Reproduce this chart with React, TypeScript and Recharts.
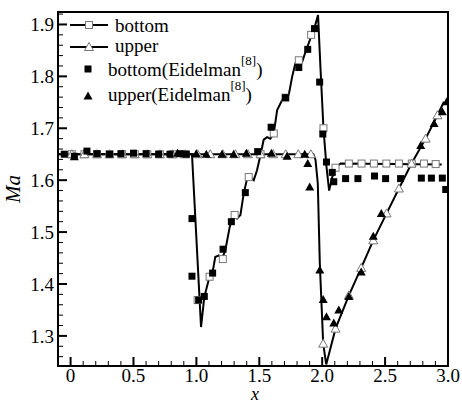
import { ComposedChart, Line, Scatter, XAxis, YAxis, ReferenceArea } from 'recharts'

const FONT = "'Liberation Serif', 'DejaVu Serif', serif"

// computed Mach number along the bottom and upper walls
const bottomLine: [number, number][] = [
  [-0.1, 1.65], [0.965, 1.65], [1.037, 1.317], [1.063, 1.375], [1.097, 1.407],
  [1.129, 1.423], [1.15, 1.452], [1.177, 1.455], [1.204, 1.449], [1.23, 1.465],
  [1.265, 1.51], [1.297, 1.533], [1.323, 1.526], [1.35, 1.533], [1.376, 1.574],
  [1.403, 1.603], [1.429, 1.606], [1.456, 1.6], [1.482, 1.619], [1.509, 1.648],
  [1.535, 1.678], [1.562, 1.683], [1.588, 1.68], [1.615, 1.69], [1.642, 1.735],
  [1.681, 1.754], [1.708, 1.759], [1.734, 1.764], [1.761, 1.799], [1.787, 1.825],
  [1.814, 1.831], [1.841, 1.828], [1.867, 1.847], [1.907, 1.873], [1.933, 1.889],
  [1.967, 1.918], [1.986, 1.818], [2.01, 1.7], [2.034, 1.626], [2.055, 1.58],
  [2.08, 1.606], [2.106, 1.624], [2.146, 1.632], [2.95, 1.63],
]
const upperLine: [number, number][] = [
  [-0.1, 1.65], [1.93, 1.65], [1.947, 1.639], [1.965, 1.594], [1.981, 1.44],
  [2.008, 1.285], [2.032, 1.245], [2.106, 1.314], [2.212, 1.378], [2.31, 1.431],
  [2.406, 1.484], [2.512, 1.536], [2.61, 1.584], [2.71, 1.632], [2.822, 1.68],
  [2.916, 1.725], [2.968, 1.751],
]

// symbols drawn on the computed curves
const bottomSymbols: [number, number][] = [
  [0.01, 1.65], [0.11, 1.65], [0.21, 1.65], [0.31, 1.65], [0.41, 1.65],
  [0.51, 1.65], [0.61, 1.65], [0.71, 1.65], [0.81, 1.65], [0.91, 1.65],
  [1.01, 1.369], [1.105, 1.414], [1.21, 1.448], [1.304, 1.533], [1.416, 1.606],
  [1.51, 1.65], [1.615, 1.69], [1.708, 1.759], [1.814, 1.831], [1.912, 1.88],
  [2.01, 1.7], [2.106, 1.624], [2.212, 1.632], [2.313, 1.632], [2.411, 1.632],
  [2.51, 1.632], [2.61, 1.632], [2.712, 1.632], [2.809, 1.632], [2.902, 1.631],
]
const upperSymbols: [number, number][] = [
  [0.01, 1.65], [0.11, 1.65], [0.21, 1.65], [0.31, 1.65], [0.41, 1.65],
  [0.51, 1.65], [0.61, 1.65], [0.71, 1.65], [0.81, 1.65], [0.91, 1.65],
  [1.01, 1.65], [1.11, 1.65], [1.21, 1.65], [1.31, 1.65], [1.41, 1.65],
  [1.51, 1.65], [1.61, 1.65], [1.71, 1.65], [1.81, 1.65], [1.91, 1.65],
  [2.008, 1.285], [2.106, 1.314], [2.212, 1.378], [2.31, 1.431], [2.406, 1.484],
  [2.512, 1.536], [2.61, 1.584], [2.71, 1.632], [2.822, 1.68], [2.916, 1.725],
]

// Eidelman [8]
const bottomEidelman: [number, number][] = [
  [-0.05, 1.65], [0.03, 1.646], [0.13, 1.656], [0.21, 1.651], [0.31, 1.65],
  [0.4, 1.651], [0.5, 1.652], [0.6, 1.651], [0.7, 1.65], [0.79, 1.65],
  [0.87, 1.651], [0.92, 1.65], [0.965, 1.526], [0.965, 1.415], [1.018, 1.369],
  [1.063, 1.376], [1.129, 1.421], [1.212, 1.467], [1.278, 1.52], [1.389, 1.576],
  [1.487, 1.655], [1.594, 1.702], [1.708, 1.759], [1.814, 1.817], [1.885, 1.852],
  [1.939, 1.892], [1.98, 1.789], [2.005, 1.689], [2.034, 1.635], [2.08, 1.615],
  [2.092, 1.597], [2.186, 1.603], [2.284, 1.603], [2.416, 1.608], [2.504, 1.603],
  [2.623, 1.603], [2.788, 1.604], [2.868, 1.604], [2.955, 1.604], [2.982, 1.582],
]
const upperEidelman: [number, number][] = [
  [0.03, 1.645], [0.85, 1.652], [0.999, 1.651], [1.079, 1.65], [1.204, 1.65],
  [1.296, 1.65], [1.397, 1.652], [1.596, 1.652], [1.721, 1.646], [1.861, 1.65],
  [1.885, 1.632], [1.901, 1.587], [1.981, 1.427], [2.008, 1.37], [2.034, 1.337],
  [2.092, 1.325], [2.132, 1.35], [2.212, 1.376], [2.31, 1.423], [2.406, 1.492],
  [2.47, 1.536], [2.783, 1.667], [2.889, 1.709], [2.955, 1.732], [2.99, 1.751],
]

const xMajor = [0, 0.5, 1, 1.5, 2, 2.5, 3]
const xLabels = ['0', '0.5', '1.0', '1.5', '2.0', '2.5', '3.0']
const yMajor = [1.3, 1.4, 1.5, 1.6, 1.7, 1.8, 1.9]
const yLabels = ['1.3', '1.4', '1.5', '1.6', '1.7', '1.8', '1.9']

// minor ticks every 0.1 in x and 0.02 in Ma
const xTicks = Array.from({ length: 31 }, (_, i) => Math.round(i * 100) / 1000)
const yTicks = Array.from({ length: 34 }, (_, i) => Math.round((1.26 + i * 0.02) * 100) / 100)

const toPoints = (pts: [number, number][]) => pts.map(([x, y]) => ({ x, y }))

const majorIndex = (list: number[], v: number) => list.findIndex(m => Math.abs(m - v) < 1e-6)

// ticks point into the plot, labels only on the major ones
function XTick({ x, y, payload }: any) {
  const i = majorIndex(xMajor, payload.value)
  const major = i >= 0
  return (
    <g>
      <line x1={x} x2={x} y1={y} y2={y - (major ? 9 : 5)} stroke="#000" strokeWidth={major ? 2 : 1} />
      {major && (
        <text x={x} y={y + 16} textAnchor="middle" fontFamily={FONT} fontSize={19} fill="#000">
          {xLabels[i]}
        </text>
      )}
    </g>
  )
}

function YTick({ x, y, payload }: any) {
  const i = majorIndex(yMajor, payload.value)
  const major = i >= 0
  return (
    <g>
      <line x1={x} x2={x + (major ? 9 : 5)} y1={y} y2={y} stroke="#000" strokeWidth={major ? 2 : 1} />
      {major && (
        <text x={x - 4} y={y + 7} textAnchor="end" fontFamily={FONT} fontSize={19} fill="#000">
          {yLabels[i]}
        </text>
      )}
    </g>
  )
}

const OpenSquare = ({ cx, cy }: any) => (
  <rect x={cx - 3.5} y={cy - 3.5} width={7} height={7} fill="#fff" stroke="#777" strokeWidth={1} />
)
const OpenTriangle = ({ cx, cy }: any) => (
  <path d={`M${cx},${cy - 4.5}L${cx + 4.5},${cy + 3.5}L${cx - 4.5},${cy + 3.5}Z`} fill="#fff" stroke="#777" strokeWidth={1} />
)
const FilledSquare = ({ cx, cy }: any) => (
  <rect x={cx - 3.5} y={cy - 3.5} width={7} height={7} fill="#000" />
)
const FilledTriangle = ({ cx, cy }: any) => (
  <path d={`M${cx},${cy - 4.5}L${cx + 4.5},${cy + 3.5}L${cx - 4.5},${cy + 3.5}Z`} fill="#000" />
)

// legend box and axis titles on top of the chart
function Legend() {
  const cited = (label: string, y: number) => (
    <text x={108} y={y} fontFamily={FONT} fontSize={19} fill="#000">
      {label}(Eidelman
      <tspan fontSize={13} dy={-11}>[8]</tspan>
      <tspan dy={11}>)</tspan>
    </text>
  )
  return (
    <svg width={462} height={403} style={{ position: 'absolute', left: 0, top: 0, pointerEvents: 'none' }}>
      <line x1={70} x2={108} y1={25} y2={25} stroke="#000" strokeWidth={2} />
      <OpenSquare cx={89} cy={25} />
      <text x={115} y={32} fontFamily={FONT} fontSize={19} fill="#000">bottom</text>
      <line x1={70} x2={108} y1={47} y2={47} stroke="#000" strokeWidth={2} />
      <OpenTriangle cx={89} cy={47} />
      <text x={115} y={52} fontFamily={FONT} fontSize={19} fill="#000">upper</text>
      <FilledSquare cx={88} cy={69} />
      {cited('bottom', 76)}
      <FilledTriangle cx={88} cy={96} />
      {cited('upper', 101)}
      <text x={255} y={400} textAnchor="middle" fontFamily={FONT} fontSize={18} fontStyle="italic" fill="#000">x</text>
      <text x={0} y={0} transform="translate(20,189) rotate(-90)" textAnchor="middle"
        fontFamily={FONT} fontSize={21} fontStyle="italic" fill="#000">Ma</text>
    </svg>
  )
}

export default function App() {
  return (
    <div style={{ position: 'absolute', left: 0, top: 0, width: 462, height: 403, background: '#fff' }}>
      <ComposedChart width={462} height={403} margin={{ top: 12, right: 14, bottom: 0, left: 0 }}>
        <XAxis
          type="number" dataKey="x" domain={[-0.1, 3.0]} ticks={xTicks} interval={0}
          height={37} tickSize={0} tickMargin={0} tickLine={false}
          axisLine={{ stroke: '#000', strokeWidth: 2 }} tick={<XTick />} allowDataOverflow
        />
        <YAxis
          type="number" dataKey="y" domain={[1.242, 1.924]} ticks={yTicks} interval={0}
          width={58} tickSize={0} tickMargin={0} tickLine={false}
          axisLine={{ stroke: '#000', strokeWidth: 2 }} tick={<YTick />} allowDataOverflow
        />
        <ReferenceArea x1={-0.1} x2={3.0} y1={1.242} y2={1.924} stroke="#000" strokeWidth={2}
          fill="none" fillOpacity={0} ifOverflow="visible" />
        <Line data={toPoints(bottomLine)} dataKey="y" type="linear" stroke="#000" strokeWidth={2}
          dot={false} activeDot={false} isAnimationActive={false} />
        <Line data={toPoints(upperLine)} dataKey="y" type="linear" stroke="#000" strokeWidth={2}
          dot={false} activeDot={false} isAnimationActive={false} />
        <Scatter data={toPoints(bottomSymbols)} dataKey="y" shape={<OpenSquare />} isAnimationActive={false} />
        <Scatter data={toPoints(upperSymbols)} dataKey="y" shape={<OpenTriangle />} isAnimationActive={false} />
        <Scatter data={toPoints(bottomEidelman)} dataKey="y" shape={<FilledSquare />} isAnimationActive={false} />
        <Scatter data={toPoints(upperEidelman)} dataKey="y" shape={<FilledTriangle />} isAnimationActive={false} />
      </ComposedChart>
      <Legend />
    </div>
  )
}
